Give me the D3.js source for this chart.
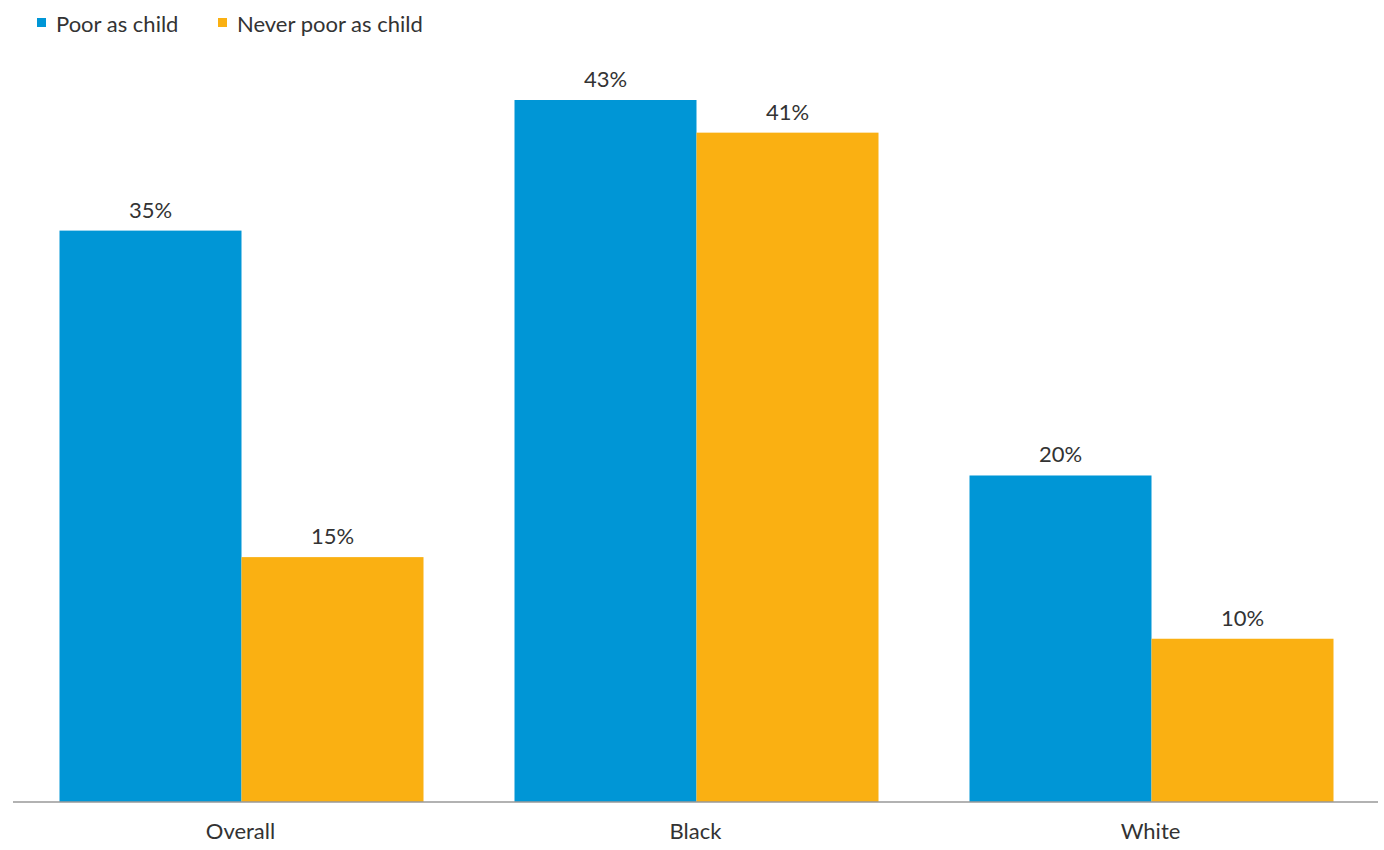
<!DOCTYPE html>
<html>
<head>
<meta charset="utf-8">
<script src="https://cdn.jsdelivr.net/npm/d3@7"></script>
<style>
  body { margin: 0; background: #fff; }
  text { font-family: Lato, "Open Sans", sans-serif; fill: #333; }
</style>
</head>
<body>
<svg id="chart" width="1384" height="850"></svg>
<script>
const categories = ['Overall', 'Black', 'White'];
const seriesNames = ['Poor as child', 'Never poor as child'];
const poorValues = [35, 43, 20];
const neverPoorValues = [15, 41, 10];
const colors = ['#0096D6', '#FAB012'];

const svg = d3.select('#chart');

const left = 13, right = 1378, baseline = 802;
const FONT = '22px';

// Scales
let xScale = d3.scaleBand()
  .domain(categories)
  .range([left, right])
  .paddingInner(0.2)
  .paddingOuter(0.1);

let xSub = d3.scaleBand()
  .domain(seriesNames)
  .range([0, xScale.bandwidth()]);

let yScale = d3.scaleLinear()
  .domain([0, 43])
  .range([baseline, 100]);

const data = categories.map((c, i) => ({
  category: c,
  values: [
    { name: seriesNames[0], value: poorValues[i], color: colors[0] },
    { name: seriesNames[1], value: neverPoorValues[i], color: colors[1] }
  ]
}));

// Bars
let groups = svg.selectAll('.group')
  .data(data)
  .enter()
  .append('g')
  .attr('class', 'group')
  .attr('transform', d => `translate(${xScale(d.category) + 1}, 0)`);

groups.selectAll('rect')
  .data(d => d.values)
  .enter()
  .append('rect')
  .attr('x', d => xSub(d.name))
  .attr('y', d => yScale(d.value))
  .attr('width', xSub.bandwidth())
  .attr('height', d => baseline - yScale(d.value))
  .attr('fill', d => d.color);

// Value labels
groups.selectAll('.value-label')
  .data(d => d.values)
  .enter()
  .append('text')
  .attr('class', 'value-label')
  .attr('x', d => xSub(d.name) + xSub.bandwidth() / 2)
  .attr('y', d => yScale(d.value) - 13)
  .attr('text-anchor', 'middle')
  .style('font-size', FONT)
  .text(d => `${d.value}%`);

// X axis
let xAxis = svg.append('g')
  .attr('transform', `translate(0, ${baseline})`)
  .call(d3.axisBottom(xScale).tickSize(0).tickPadding(21));

xAxis.select('.domain')
  .attr('stroke', '#999')
  .attr('stroke-width', 1.5)
  .attr('d', `M${left},0H${right}`);

xAxis.selectAll('text')
  .style('font-size', FONT)
  .style('font-family', 'Lato, "Open Sans", sans-serif')
  .attr('fill', '#333');

// Legend
const legendX = [37, 218];
let legend = svg.selectAll('.legend')
  .data(seriesNames)
  .enter()
  .append('g')
  .attr('class', 'legend')
  .attr('transform', (d, i) => `translate(${legendX[i]}, 18)`);

legend.append('rect')
  .attr('width', 9)
  .attr('height', 9)
  .attr('fill', (d, i) => colors[i]);

legend.append('text')
  .attr('x', 19)
  .attr('y', 14)
  .style('font-size', FONT)
  .text(d => d);
</script>
</body>
</html>
